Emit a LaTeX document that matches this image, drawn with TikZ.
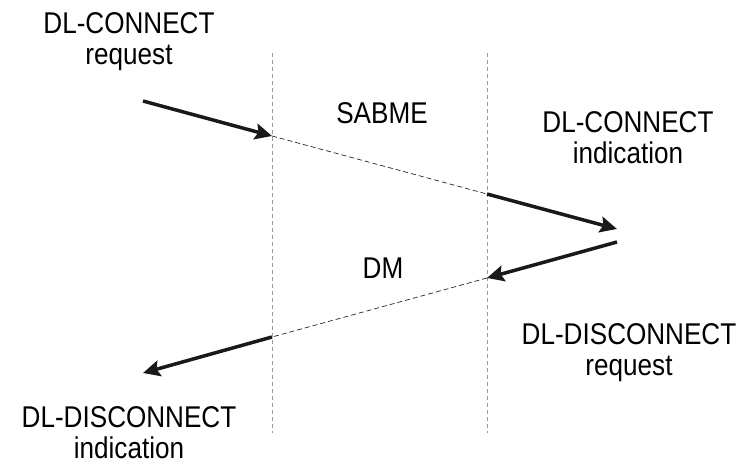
\documentclass[tikz,border=0pt]{standalone}
\usepackage{fontspec}
\setmainfont[FakeStretch=0.87]{Liberation Sans}
\usetikzlibrary{arrows.meta}

\begin{document}
\begin{tikzpicture}[x=1pt,y=-1pt]
                    \tikzstyle{every node}+=[inner sep=0pt]
                    \tikzstyle{lbl}=[font=\fontsize{30}{31}\selectfont, align=center]
                    \tikzstyle{lane}=[black!40, dash pattern=on 4pt off 3pt, line width=0.7pt]
                    \tikzstyle{frm}=[black!85, dash pattern=on 5pt off 3pt, line width=0.7pt]
                    \tikzstyle{prim}=[black!90, line width=3.5pt]
                    \tikzstyle{primtip}=[prim, -{Stealth[length=17pt,width=16pt,inset=3pt]}]
                    \useasboundingbox (0,0) rectangle (748,474);
                    \coordinate (lt) at (272,53);
                    \coordinate (lb) at (272,433);
                    \coordinate (rt) at (487,53);
                    \coordinate (rb) at (487,433);
                    \draw [lane] (lt) -- (lb);
                    \draw [lane] (rt) -- (rb);
                    \coordinate (a0) at (143,101);
                    \coordinate (a1) at (272,136);
                    \coordinate (a2) at (487,194);
                    \coordinate (a3) at (617,229);
                    \coordinate (b0) at (617,242);
                    \coordinate (b1) at (487,278);
                    \coordinate (b2) at (272,337);
                    \coordinate (b3) at (143,373);
                    \draw [primtip] (a0) -- (a1);
                    \draw [frm] (a1) -- (a2);
                    \draw [primtip] (a2) -- (a3);
                    \draw [primtip] (b0) -- (b1);
                    \draw [frm] (b1) -- (b2);
                    \draw [primtip] (b2) -- (b3);
                    \node [lbl, anchor=north] (conreq) at (129,12.5) {DL-CONNECT\\request};
                    \node [lbl, anchor=north] (conind) at (628,111.5) {DL-CONNECT\\indication};
                    \node [lbl, anchor=north] (discreq) at (629,323) {DL-DISCONNECT\\request};
                    \node [lbl, anchor=north] (discind) at (129,406.5) {DL-DISCONNECT\\indication};
                    \node [lbl] (sabme) at (382,113) {SABME};
                    \node [lbl] (dm) at (383,268) {DM};
                \end{tikzpicture}
\end{document}
